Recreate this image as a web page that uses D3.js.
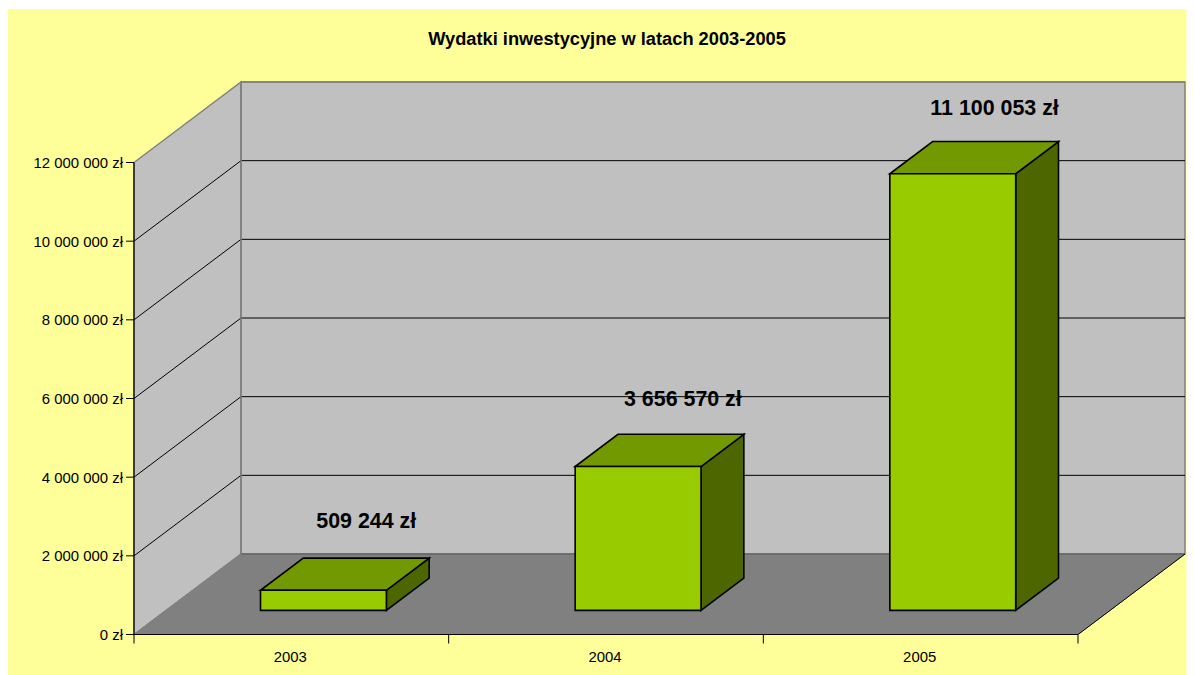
<!DOCTYPE html>
<html><head><meta charset="utf-8">
<script src="https://cdn.jsdelivr.net/npm/d3@7/dist/d3.min.js"></script>
<style>html,body{margin:0;padding:0;background:#fff}svg{display:block}text{font-family:"Liberation Sans",Arial,sans-serif;fill:#000}</style>
</head><body><svg id="c" width="1194" height="675"></svg>
<script>
const title = "Wydatki inwestycyjne w latach 2003-2005";
const years = ["2003","2004","2005"];
const values = [509244,3656570,11100053];
const valueLabels = ["509 244 zł","3 656 570 zł","11 100 053 zł"];
const yTicks = [0,2000000,4000000,6000000,8000000,10000000,12000000];
const yTickLabels = ["0 zł","2 000 000 zł","4 000 000 zł","6 000 000 zł","8 000 000 zł","10 000 000 zł","12 000 000 zł"];

const svg = d3.select("#c");
const L=134,R=1078,B=634.5,T=162.5,DX=107,DY=80.5;
const y = d3.scaleLinear().domain([0,12000000]).range([B,T]);
const x = d3.scaleBand().domain(years).range([L,R]).paddingInner(0).paddingOuter(0);
const barW = x.bandwidth()*0.4;
const P=(px,py,d)=>[px+DX*d,py-DY*d];
const poly=(pts,fill,stroke,sw)=>svg.append("polygon").attr("points",pts.map(p=>p.join(",")).join(" "))
  .attr("fill",fill).attr("stroke",stroke).attr("stroke-width",sw).attr("stroke-linejoin","miter");
const line=(a,b,c,w)=>svg.append("line").attr("x1",a[0]).attr("y1",a[1]).attr("x2",b[0]).attr("y2",b[1]).attr("stroke",c).attr("stroke-width",w);

svg.append("rect").attr("x",8).attr("y",9).attr("width",1178.5).attr("height",666).attr("fill","#ffff99");
svg.append("text").attr("x",607).attr("y",45).attr("text-anchor","middle").attr("font-size",18.25).attr("font-weight","bold").text(title);

const y0=y(0), yM=y(12000000);
poly([P(L,y0,0),P(L,y0,1),P(L,yM,1),P(L,yM,0)],"#c0c0c0","#808080",1.5);
poly([P(L,y0,1),P(R,y0,1),P(R,yM,1),P(L,yM,1)],"#c0c0c0","#808080",1.5);
poly([P(L,y0,0),P(R,y0,0),P(R,y0,1),P(L,y0,1)],"#808080","#808080",1);
yTicks.slice(1,-1).forEach(t=>{
  line(P(L,y(t),0),P(L,y(t),1),"#000",1);
  line(P(L,y(t),1),P(R,y(t),1),"#000",1);
});
line(P(L,yM,1),P(R,yM,1),"#808080",1.5);
line(P(L,y0,1),P(L,yM,1),"#808080",1.5);
line(P(L,y0,1),P(R,y0,1),"#666",1.5);
line(P(L,y0,0),P(L,y0,1),"#808080",1);
line(P(R,y0,0),P(R,y0,1),"#000",1);
line([L,y0],[L,yM],"#000",1.2);
line([L,y0],[R,y0],"#000",1.2);
yTicks.forEach((t,i)=>{
  line([L-8,y(t)],[L,y(t)],"#000",1);
  svg.append("text").attr("x",L-11).attr("y",y(t)+5.5).attr("text-anchor","end").attr("font-size",14.9).text(yTickLabels[i]);
});
[...years.map(d=>x(d)),R].forEach(v=>line([v,y0],[v,y0+9],"#000",1));
years.forEach(c=>svg.append("text").attr("x",x(c)+x.bandwidth()/2-1).attr("y",662).attr("text-anchor","middle").attr("font-size",14.9).text(c));

const labelLift=[69,68,65.5], labelShift=[0,2,-1];
years.forEach((c,i)=>{
  const x0=x(c)+DX*0.3+x.bandwidth()*0.3, x1=x0+barW;
  const by=y0-DY*0.3, top=by-(y0-y(values[i]));
  const off=DX*0.4, offY=DY*0.4;
  poly([[x1,by],[x1+off,by-offY],[x1+off,top-offY],[x1,top]],"#4d6600","#000",1.6);
  poly([[x0,top],[x1,top],[x1+off,top-offY],[x0+off,top-offY]],"#739900","#000",1.6);
  poly([[x0,by],[x1,by],[x1,top],[x0,top]],"#99cc00","#000",1.6);
  svg.append("text").attr("x",(x0+x1)/2+off+labelShift[i]).attr("y",top-labelLift[i]+7).attr("text-anchor","middle")
    .attr("font-size",21.4).attr("font-weight","bold").text(valueLabels[i]);
});
</script></body></html>
